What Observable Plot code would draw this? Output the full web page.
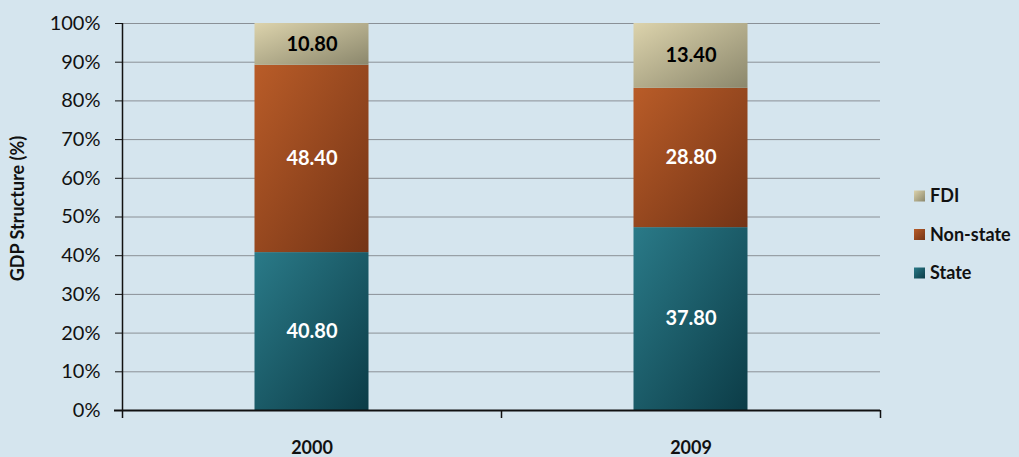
<!DOCTYPE html>
<html>
<head>
<meta charset="utf-8">
<script src="https://cdn.jsdelivr.net/npm/d3@7"></script>
<script src="https://cdn.jsdelivr.net/npm/@observablehq/plot@0.6"></script>
<style>
  html, body { margin: 0; padding: 0; background: #d5e5ee; }
  #chart { width: 1019px; height: 457px; }
  #chart svg { font-family: Lato, "Open Sans", sans-serif; }
</style>
</head>
<body>
<div id="chart"></div>
<script>
// GDP structure by ownership sector
const years = ["2000", "2009"];
const sectors = ["State", "Non-state", "FDI"];
const stateShare = [40.8, 37.8];
const nonStateShare = [48.4, 28.8];
const fdiShare = [10.8, 13.4];
const yTicks = [0, 0.1, 0.2, 0.3, 0.4, 0.5, 0.6, 0.7, 0.8, 0.9, 1];
const yTitle = "GDP Structure (%)";

const gradients = {
  "State": ["#2a7a88", "#0c3c47"],
  "Non-state": ["#b95c28", "#743416"],
  "FDI": ["#dcd3ac", "#8b876c"]
};
const gradId = {"State": "g-state", "Non-state": "g-nonstate", "FDI": "g-fdi"};
const labelColor = {"State": "white", "Non-state": "white", "FDI": "black"};

const rows = [];
years.forEach((year, i) => {
  rows.push({year, sector: "State", value: stateShare[i]});
  rows.push({year, sector: "Non-state", value: nonStateShare[i]});
  rows.push({year, sector: "FDI", value: fdiShare[i]});
});

const W = 1019, H = 457;
const mL = 122, mR = 139, mT = 23, mB = 47;
const halfBand = (W - mL - mR) / years.length / 2;
const barInset = halfBand - 57;

const stackOpts = {x: "year", y: "value", z: "sector", order: sectors, offset: "normalize"};

const svg = Plot.plot({
  width: W,
  height: H,
  marginLeft: mL,
  marginRight: mR,
  marginTop: mT,
  marginBottom: mB,
  style: {background: "transparent", color: "#111"},
  x: {domain: years, padding: 0},
  y: {domain: [0, 1]},
  color: {type: "identity"},
  marks: [
    Plot.gridY(yTicks, {stroke: "#8a9096", strokeOpacity: 1, strokeWidth: 1}),
    Plot.axisY(yTicks, {
      tickFormat: d3.format(".0%"),
      tickSize: 7,
      tickPadding: 15,
      fontSize: 20,
      stroke: "#111",
      label: null
    }),
    Plot.axisX({tickSize: 0, tickPadding: 31, fontSize: 18, fontWeight: "bold", label: null}),
    Plot.barY(rows, Plot.stackY({
      ...stackOpts,
      fill: d => `url(#${gradId[d.sector]})`,
      insetLeft: barInset,
      insetRight: barInset
    })),
    Plot.text(rows, Plot.stackY({
      ...stackOpts,
      text: d => d.value.toFixed(2),
      fill: d => labelColor[d.sector],
      fontSize: 20,
      fontWeight: "bold"
    })),
    // category boundary ticks and the y axis line
    Plot.ruleX(years, {x: d => d, dx: -halfBand, stroke: "#111", strokeWidth: 1.5, insetTop: 0, insetBottom: -8, filter: (d, i) => i === 0}),
    Plot.ruleX(years, {x: d => d, dx: -halfBand, stroke: "#111", strokeWidth: 1.5, insetTop: H - mT - mB, insetBottom: -8, filter: (d, i) => i > 0}),
    Plot.ruleX(years, {x: d => d, dx: halfBand, stroke: "#111", strokeWidth: 1.5, insetTop: H - mT - mB, insetBottom: -8, filter: (d, i) => i === years.length - 1}),
    Plot.ruleY([0], {stroke: "#111", strokeWidth: 2, insetLeft: -8})
  ]
});

const root = d3.select(svg);

// gradient fills for bars and legend swatches
const defs = root.insert("defs", ":first-child");
for (const s of sectors) {
  const g = defs.append("linearGradient")
    .attr("id", gradId[s])
    .attr("x1", 0).attr("y1", 0).attr("x2", 1).attr("y2", 1);
  g.append("stop").attr("offset", "0%").attr("stop-color", gradients[s][0]);
  g.append("stop").attr("offset", "100%").attr("stop-color", gradients[s][1]);
}

// rotated y-axis title
root.append("text")
  .attr("transform", `translate(18,${(mT + H - mB) / 2 - 8}) rotate(-90)`)
  .attr("text-anchor", "middle")
  .attr("dy", "0.35em")
  .attr("font-size", 18)
  .attr("font-weight", "bold")
  .attr("fill", "#111")
  .text(yTitle);

// legend, top entry first
const legend = root.append("g")
  .attr("font-size", 18)
  .attr("font-weight", "bold")
  .attr("text-anchor", "start");
[...sectors].reverse().forEach((s, i) => {
  const cy = 196 + i * 38.5;
  legend.append("rect")
    .attr("x", 914).attr("y", cy - 5.5).attr("width", 11).attr("height", 11)
    .attr("fill", `url(#${gradId[s]})`);
  legend.append("text")
    .attr("x", 930).attr("y", cy).attr("dy", "0.35em")
    .attr("fill", "#111")
    .text(s);
});

document.getElementById("chart").appendChild(svg);
</script>
</body>
</html>
